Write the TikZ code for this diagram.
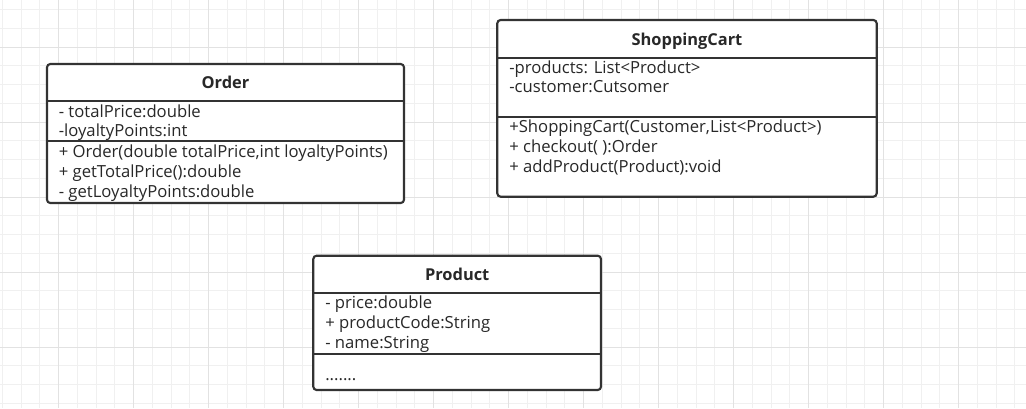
\documentclass[tikz,border=0pt]{standalone}
\usepackage{fontspec}
\setmainfont{Open Sans}
\definecolor{gridminor}{RGB}{240,240,240}
\definecolor{gridmajor}{RGB}{226,226,226}
\definecolor{umlline}{RGB}{51,51,51}
\definecolor{umltext}{RGB}{40,40,40}
\begin{document}
\begin{tikzpicture}[x=0.75pt,y=-0.75pt,
  umlbox/.style={draw=umlline,line width=1.6pt,rounded corners=2.5pt,fill=white},
  divider/.style={draw=umlline,line width=1.6pt},
  title/.style={inner sep=0pt,yshift=-1.5pt,font=\fontsize{12.3}{15}\selectfont\bfseries,text=umltext,text height=9pt,text depth=3pt},
  member/.style={anchor=west,inner sep=0pt,yshift=-1.5pt,font=\fontsize{12.5}{15}\selectfont,text=umltext,text height=9pt,text depth=3.6pt}]
\useasboundingbox (0,0) rectangle (1026,408);
\fill[white] (0,0) rectangle (1026,408);
% grid
\foreach \k in {0,...,54}{
  \pgfmathsetmacro{\xx}{2.45+18.75*\k}
  \draw[gridminor,line width=0.75pt] (\xx,0) -- (\xx,408);}
\foreach \k in {0,...,21}{
  \pgfmathsetmacro{\yy}{9.5+18.75*\k}
  \draw[gridminor,line width=0.75pt] (0,\yy) -- (1026,\yy);}
\foreach \k in {0,...,12}{
  \pgfmathsetmacro{\xx}{58.7+75*\k}
  \draw[gridmajor,line width=0.75pt] (\xx,0) -- (\xx,408);}
\foreach \k in {0,...,4}{
  \pgfmathsetmacro{\yy}{47+75*\k}
  \draw[gridmajor,line width=0.75pt] (0,\yy) -- (1026,\yy);}

% Order
\draw[umlbox] (47,64) rectangle (404,203);
\draw[divider] (47,101) -- (404,101);
\draw[divider] (47,140.7) -- (404,140.7);
\node[title] (order) at (225.5,82.5) {Order};
\node[member] (order-a1) at (58.5,111.7) {- totalPrice:double};
\node[member] (order-a2) at (58.5,130.7) {-loyaltyPoints:int};
\node[member] (order-m1) at (58.5,151.7) {+ Order(double totalPrice,int loyaltyPoints)};
\node[member] (order-m2) at (58.5,171.7) {+ getTotalPrice():double};
\node[member] (order-m3) at (58.5,191.7) {- getLoyaltyPoints:double};

% ShoppingCart
\draw[umlbox] (497.3,20) rectangle (876.7,196.7);
\draw[divider] (497.3,57.7) -- (876.7,57.7);
\draw[divider] (497.3,116.7) -- (876.7,116.7);
\node[title] (cart) at (687,39) {ShoppingCart};
\node[member] (cart-a1) at (509,67.7) {-products: List<Product>};
\node[member] (cart-a2) at (509,86.7) {-customer:Cutsomer};
\node[member] (cart-m1) at (509,126.7) {+ShoppingCart(Customer,List<Product>)};
\node[member] (cart-m2) at (509,146.7) {+ checkout( ):Order};
\node[member] (cart-m3) at (509,166.7) {+ addProduct(Product):void};

% Product
\draw[umlbox] (313.3,255.7) rectangle (601,390);
\draw[divider] (313.3,292.7) -- (601,292.7);
\draw[divider] (313.3,354) -- (601,354);
\node[title] (product) at (457.2,274) {Product};
\node[member] (product-a1) at (325,303.3) {- price:double};
\node[member] (product-a2) at (325,322.7) {+ productCode:String};
\node[member] (product-a3) at (325,342.7) {- name:String};
\node[member] (product-m1) at (325,374.5) {.......};
\end{tikzpicture}
\end{document}
